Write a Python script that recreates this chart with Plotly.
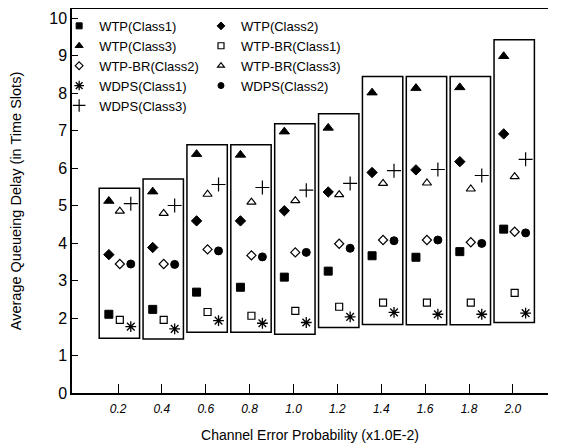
import plotly.graph_objects as go

# Categories (channel error probability, x1.0E-2)
error_prob = [0.2, 0.4, 0.6, 0.8, 1.0, 1.2, 1.4, 1.6, 1.8, 2.0]
tick_labels = ["0.2", "0.4", "0.6", "0.8", "1.0", "1.2", "1.4", "1.6", "1.8", "2.0"]

# Average queueing delay (time slots)
wtp_c1 = [2.10, 2.23, 2.69, 2.82, 3.09, 3.25, 3.66, 3.62, 3.77, 4.37]
wtp_c2 = [3.69, 3.88, 4.59, 4.59, 4.86, 5.36, 5.88, 5.95, 6.17, 6.91]
wtp_c3 = [5.12, 5.37, 6.37, 6.35, 6.97, 7.07, 8.01, 8.13, 8.15, 8.98]
wtpbr_c1 = [1.95, 1.95, 2.16, 2.06, 2.19, 2.30, 2.41, 2.41, 2.41, 2.67]
wtpbr_c2 = [3.44, 3.44, 3.83, 3.67, 3.75, 3.98, 4.08, 4.08, 4.02, 4.30]
wtpbr_c3 = [4.85, 4.79, 5.30, 5.09, 5.13, 5.29, 5.59, 5.60, 5.44, 5.77]
wdps_c1 = [1.77, 1.71, 1.93, 1.86, 1.88, 2.03, 2.15, 2.10, 2.10, 2.13]
wdps_c2 = [3.44, 3.43, 3.79, 3.63, 3.75, 3.86, 4.06, 4.08, 3.99, 4.27]
wdps_c3 = [5.05, 5.00, 5.56, 5.48, 5.41, 5.59, 5.93, 5.96, 5.80, 6.23]

# Enclosing boxes per group (top / bottom delay values)
box_top = [5.46, 5.71, 6.62, 6.62, 7.18, 7.45, 8.44, 8.44, 8.44, 9.42]
box_bottom = [1.46, 1.44, 1.62, 1.62, 1.57, 1.75, 1.83, 1.82, 1.82, 1.88]

OFF_WTP, OFF_BR, OFF_WDPS = -0.042, 0.008, 0.058
BOX_OFF, BOX_HALF = 0.006, 0.092

def xs(off):
    return [p + off for p in error_prob]

fig = go.Figure()

series = [
    # name, x offset, values, symbol, plot size, legend size, line width, legend
    ("WTP(Class1)", OFF_WTP, wtp_c1, "square", 8, 6, 1.0, "legend"),
    ("WTP(Class3)", OFF_WTP, wtp_c3, "triangle-up", 9, 7, 1.0, "legend"),
    ("WTP-BR(Class2)", OFF_BR, wtpbr_c2, "diamond-open", 7, 6, 1.2, "legend"),
    ("WDPS(Class1)", OFF_WDPS, wdps_c1, "asterisk-open", 9, 8, 1.3, "legend"),
    ("WDPS(Class3)", OFF_WDPS, wdps_c3, "cross-thin-open", 10, 9, 1.2, "legend"),
    ("WTP(Class2)", OFF_WTP, wtp_c2, "diamond", 8, 6, 1.0, "legend2"),
    ("WTP-BR(Class1)", OFF_BR, wtpbr_c1, "square-open", 7, 6, 1.2, "legend2"),
    ("WTP-BR(Class3)", OFF_BR, wtpbr_c3, "triangle-up-open", 8, 6, 1.2, "legend2"),
    ("WDPS(Class2)", OFF_WDPS, wdps_c2, "circle", 8, 6, 1.0, "legend2"),
]

for name, off, vals, sym, size, lsize, lw, leg in series:
    fig.add_trace(go.Scatter(
        x=xs(off), y=vals, mode="markers", name=name, showlegend=False,
        marker=dict(symbol=sym, size=size, color="black",
                    line=dict(color="black", width=lw)),
    ))
    # legend-only entry with the smaller legend glyph
    fig.add_trace(go.Scatter(
        x=[None], y=[None], mode="markers", name=name, legend=leg,
        marker=dict(symbol=sym, size=lsize, color="black",
                    line=dict(color="black", width=lw)),
    ))

for p, top, bot in zip(error_prob, box_top, box_bottom):
    fig.add_shape(type="rect", xref="x", yref="y",
                  x0=p + BOX_OFF - BOX_HALF, x1=p + BOX_OFF + BOX_HALF, y0=bot, y1=top,
                  line=dict(color="black", width=1.5), fillcolor="rgba(0,0,0,0)",
                  layer="below")

font_family = "Liberation Sans, Arial, sans-serif"
leg_common = dict(bgcolor="rgba(0,0,0,0)", borderwidth=0, yanchor="top",
                  font=dict(family=font_family, size=13, color="black"),
                  tracegroupgap=0, itemwidth=30, traceorder="normal")

fig.update_layout(
    width=561, height=448,
    margin=dict(l=64, r=21, t=1, b=63, autoexpand=False),
    paper_bgcolor="white", plot_bgcolor="white",
    font=dict(family=font_family, color="black"),
    showlegend=True,
    legend=dict(x=-0.027, y=0.995, **leg_common),
    legend2=dict(x=0.271, y=0.995, **leg_common),
    xaxis=dict(
        range=[-0.01, 2.16], tickvals=error_prob, ticktext=tick_labels,
        ticks="inside", ticklen=9, tickcolor="black", tickwidth=1.2,
        showline=True, linecolor="black", linewidth=1.5, mirror=True,
        showgrid=False, zeroline=False, ticklabelstandoff=4,
        tickfont=dict(family=font_family, size=12, color="black", style="italic"),
        title=dict(text="Channel Error Probability (x1.0E-2)",
                   font=dict(family=font_family, size=14, color="black"), standoff=15),
    ),
    yaxis=dict(
        range=[0, 10.24], tickvals=list(range(0, 11)),
        ticks="inside", ticklen=6, tickcolor="black", tickwidth=1.2,
        showline=True, linecolor="black", linewidth=1.5,
        showgrid=False, zeroline=False, ticklabeloverflow="allow",
        tickfont=dict(family=font_family, size=16, color="black"),
        title=dict(text="Average Queueing Delay (in Time Slots)",
                   font=dict(family=font_family, size=14.5, color="black"), standoff=28),
    ),
)

fig.write_html("out.html")
